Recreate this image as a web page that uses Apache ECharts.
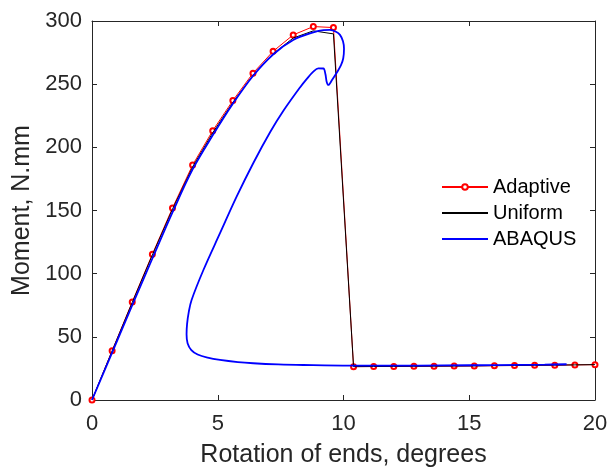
<!DOCTYPE html>
<html>
<head>
<meta charset="utf-8">
<script src="https://cdn.jsdelivr.net/npm/echarts@6/dist/echarts.min.js"></script>
<style>html,body{margin:0;padding:0;background:#fff;}#c{width:610px;height:470px;}</style>
</head>
<body>
<div id="c"></div>
<script>
var xTicks = [0, 5, 10, 15, 20];
var yTicks = [0, 50, 100, 150, 200, 250, 300];

var adaptiveX = [0, 0.8, 1.6, 2.4, 3.2, 4.0, 4.8, 5.6, 6.4, 7.2, 8.0, 8.8, 9.6, 10.4, 11.2, 12.0, 12.8, 13.6, 14.4, 15.2, 16.0, 16.8, 17.6, 18.4, 19.2, 20.0];
var adaptiveY = [0, 39, 77.6, 115.4, 152, 186, 213.2, 237, 258.7, 276, 289, 295.6, 294.8, 26.4, 26.5, 26.6, 26.7, 26.8, 26.9, 27.0, 27.2, 27.3, 27.5, 27.6, 27.8, 28.0];

var uniformX = [0, 0.8, 1.6, 2.4, 3.2, 4.0, 4.8, 5.6, 6.4, 7.2, 8.0, 8.8, 9.6, 10.4, 11.2, 12.0, 12.8, 13.6, 14.4, 15.2, 16.0, 16.8, 17.6, 18.4, 19.2, 20.0];
var uniformY = [0, 38.8, 77.2, 114.8, 151, 184.5, 211.5, 235.5, 257, 274, 286.5, 292.2, 289.8, 26.4, 26.5, 26.6, 26.7, 26.8, 26.9, 27.0, 27.2, 27.3, 27.5, 27.6, 27.8, 28.0];

var abaqusX = [0, 0.8, 1.6, 2.4, 3.2, 4.0, 4.8, 5.6, 6.4, 7.2, 8.0, 8.8, 9.2, 9.46, 9.7, 9.86, 9.98, 10.02, 9.99, 9.9, 9.73, 9.55, 9.40, 9.33, 9.28, 9.2, 9.0, 8.8, 8.55, 8.27, 7.61, 7.08, 6.41, 5.75, 5.09, 4.43, 3.96, 3.85, 3.78, 3.76, 3.8, 3.95, 4.2, 4.6, 5.09, 5.8, 6.41, 7.4, 8.4, 10.26, 12, 14, 16, 18, 18.87];
var abaqusY = [0, 37.5, 75, 112, 148.5, 182.5, 209.5, 234.5, 256.5, 273.5, 285, 291, 292.8, 293, 291.5, 289, 284, 278, 270.5, 265, 259, 253.5, 249.4, 252, 258, 262.4, 262.5, 259.9, 254.4, 247.4, 228.9, 211.9, 187.4, 160.9, 132, 102.9, 79.2, 70, 60, 52, 45, 39.5, 36, 33.5, 31.7, 30, 29.1, 28.2, 27.7, 27.2, 27.2, 27.4, 27.6, 28, 28.3];

function pairs(xs, ys) { return xs.map(function (x, i) { return [x, ys[i]]; }); }

var FONT = 'Liberation Sans, Arial, Helvetica, sans-serif';
var AX = '#262626';

var chart = echarts.init(document.getElementById('c'), null, { renderer: 'canvas' });
chart.setOption({
  animation: false,
  backgroundColor: '#fff',
  grid: { left: 92, right: 15, top: 21, bottom: 70, outerBoundsMode: 'none', containLabel: false },
  legend: {
    orient: 'vertical', left: 441, top: 177, padding: 0,
    itemWidth: 46, itemHeight: 7, itemGap: 6,
    textStyle: { fontFamily: FONT, fontSize: 20, color: '#000' },
    data: [
      { name: 'Adaptive' },
      { name: 'Uniform', itemStyle: { opacity: 0 } },
      { name: 'ABAQUS', itemStyle: { opacity: 0 } }
    ]
  },
  xAxis: [{
    type: 'value', min: 0, max: 20, interval: 5,
    name: 'Rotation of ends, degrees', nameLocation: 'middle', nameGap: 43,
    nameTextStyle: { fontFamily: FONT, fontSize: 25, color: AX },
    axisLine: { onZero: false, lineStyle: { color: AX, width: 1 } },
    axisTick: { inside: true, length: 5, lineStyle: { color: AX } },
    axisLabel: { fontFamily: FONT, fontSize: 22, color: AX, margin: 13 },
    splitLine: { show: false }
  }, {
    type: 'value', min: 0, max: 20, interval: 5, position: 'top',
    axisLine: { onZero: false, lineStyle: { color: AX, width: 1 } },
    axisTick: { inside: true, length: 5, lineStyle: { color: AX } },
    axisLabel: { show: false }, splitLine: { show: false }
  }],
  yAxis: [{
    type: 'value', min: 0, max: 300, interval: 50,
    name: 'Moment, N.mm', nameLocation: 'middle', nameGap: 45,
    nameTextStyle: { fontFamily: FONT, fontSize: 25, color: AX },
    axisLine: { onZero: false, lineStyle: { color: AX, width: 1 } },
    axisTick: { inside: true, length: 5, lineStyle: { color: AX } },
    axisLabel: { fontFamily: FONT, fontSize: 22, color: AX, margin: 10 },
    splitLine: { show: false }
  }, {
    type: 'value', min: 0, max: 300, interval: 50, position: 'right',
    axisLine: { onZero: false, lineStyle: { color: AX, width: 1 } },
    axisTick: { inside: true, length: 5, lineStyle: { color: AX } },
    axisLabel: { show: false }, splitLine: { show: false }
  }],
  series: [{
    name: 'Adaptive', type: 'line', data: pairs(adaptiveX, adaptiveY),
    symbol: 'emptyCircle', symbolSize: 5, showAllSymbol: true,
    lineStyle: { color: '#ff0000', width: 1 },
    itemStyle: { color: '#ff0000', borderColor: '#ff0000', borderWidth: 1 },
    z: 2
  }, {
    name: 'Uniform', type: 'line', data: pairs(uniformX, uniformY),
    symbol: 'none', lineStyle: { color: '#000000', width: 1 }, itemStyle: { color: '#000' },
    z: 3
  }, {
    name: 'ABAQUS', type: 'line', data: pairs(abaqusX, abaqusY),
    symbol: 'none', smooth: 0.35, lineStyle: { color: '#0000ff', width: 1.8 }, itemStyle: { color: '#0000ff' },
    z: 4
  }]
});
</script>
</body>
</html>
